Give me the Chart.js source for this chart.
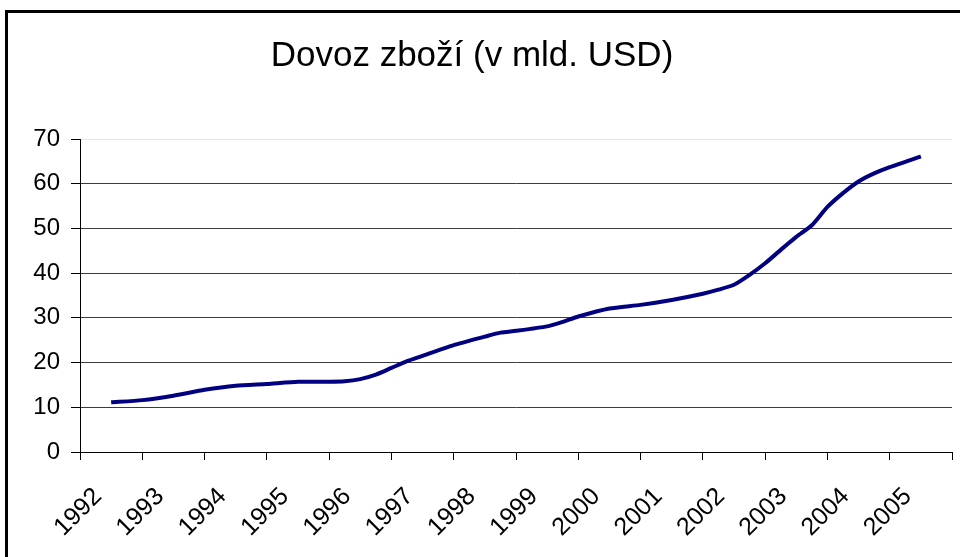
<!DOCTYPE html>
<html>
<head>
<meta charset="utf-8">
<title>Dovoz zboží</title>
<script src="https://cdn.jsdelivr.net/npm/chart.js@4.4.1/dist/chart.umd.min.js"></script>
<style>
  html, body { margin: 0; padding: 0; background: #fff; }
  #wrap { position: relative; width: 960px; height: 557px; overflow: hidden; }
  #frame {
    position: absolute; left: 5px; top: 10px; width: 1000px; height: 600px;
    border-left: 3px solid #000; border-top: 3px solid #000; pointer-events: none;
  }
  canvas { position: absolute; left: 0; top: 0; }
</style>
</head>
<body>
<div id="wrap">
  <canvas id="chart" width="960" height="557"></canvas>
  <div id="frame"></div>
</div>
<script>
// ── Data ───────────────────────────────────
const TITLE = 'Dovoz zboží (v mld. USD)';
const YEAR_LABELS = ['1992', '1993', '1994', '1995', '1996', '1997', '1998',
                     '1999', '2000', '2001', '2002', '2003', '2004', '2005'];
// position along the year axis (category centre of a year = year + 0.5)
const T = [1992.5, 1993.0, 1993.5, 1994.0, 1994.5, 1995.0, 1995.5, 1996.0, 1996.25,
           1996.5, 1996.75, 1997.0, 1997.25, 1997.5, 1998.0, 1998.5, 1998.75, 1999.0,
           1999.5, 1999.75, 2000.0, 2000.5, 2001.0, 2001.5, 2002.0, 2002.25, 2002.5,
           2002.75, 2003.0, 2003.25, 2003.5, 2003.75, 2004.0, 2004.25, 2004.5, 2004.75,
           2005.0, 2005.5];
const IMPORTS = [11.1, 11.6, 12.6, 13.9, 14.8, 15.2, 15.7, 15.7, 15.8,
                 16.3, 17.3, 18.8, 20.3, 21.5, 23.9, 25.8, 26.7, 27.1,
                 28.1, 29.1, 30.3, 32.1, 32.9, 34.0, 35.4, 36.3, 37.4,
                 39.6, 42.2, 45.2, 48.1, 50.7, 54.8, 57.9, 60.5, 62.3,
                 63.7, 66.1];
const Y_TICKS = [0, 10, 20, 30, 40, 50, 60, 70];

const FONT = "'Liberation Sans', Arial, sans-serif";
Chart.defaults.font.family = FONT;
Chart.defaults.color = '#000';

new Chart(document.getElementById('chart').getContext('2d'), {
  type: 'line',
  data: {
    datasets: [{
      label: TITLE,
      data: T.map((t, i) => ({ x: t, y: IMPORTS[i] })),
      borderColor: '#000080',
      borderWidth: 4,
      pointRadius: 0,
      tension: 0.2,
      fill: false,
    }],
  },
  options: {
    responsive: false,
    animation: false,
    layout: { padding: { top: 139, right: 8, bottom: 0, left: 0 } },
    plugins: {
      legend: { display: false },
      tooltip: { enabled: false },
    },
    scales: {
      x: {
        type: 'linear',
        min: 1992, max: 2006,
        afterBuildTicks: s => { s.ticks = YEAR_LABELS.map((_, i) => ({ value: 1992 + i })).concat([{ value: 2006 }]); },
        afterFit: s => { s.height = 105; s.paddingLeft = 0; s.paddingRight = 0; },
        ticks: {
          autoSkip: false,
          maxRotation: 45, minRotation: 45,
          padding: 22,
          labelOffset: 18,
          font: { size: 25 },
          callback: v => YEAR_LABELS[v - 1992] || '',
        },
        grid: { drawOnChartArea: false, drawTicks: true, tickLength: 8, color: '#000', lineWidth: 1 },
        border: { color: '#000', width: 1 },
      },
      y: {
        min: 0, max: 70,
        afterBuildTicks: s => { s.ticks = Y_TICKS.map(v => ({ value: v })); },
        afterFit: s => { s.width = 80; },
        ticks: { padding: 11, font: { size: 24 } },
        grid: {
          tickLength: 9,
          color: ctx => (ctx.tick && ctx.tick.value === 70 ? '#e6e6e6' : '#3c3c3c'),
          tickColor: '#000',
          lineWidth: 1,
        },
        border: { color: '#000', width: 1 },
      },
    },
  },
  plugins: [{
    id: 'title',
    afterDraw(chart) {
      const c = chart.ctx;
      c.save();
      c.font = '35px ' + FONT;
      c.fillStyle = '#000';
      c.textAlign = 'center';
      c.textBaseline = 'alphabetic';
      c.fillText(TITLE, 472, 66);
      c.restore();
    },
  }],
});
</script>
</body>
</html>
